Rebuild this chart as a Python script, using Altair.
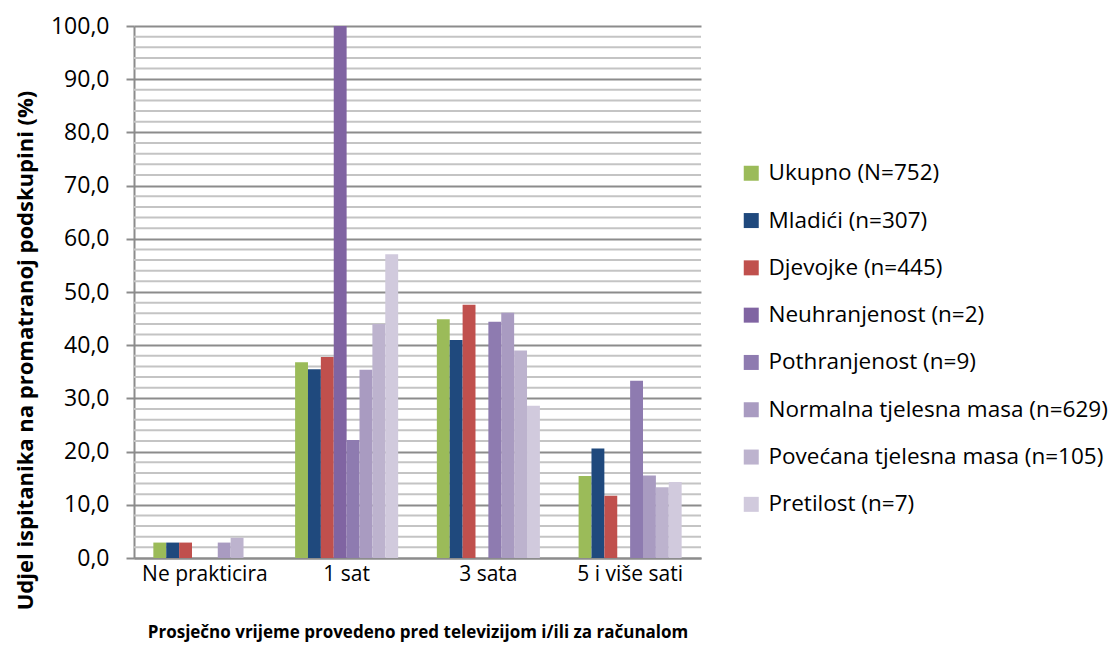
import altair as alt
import pandas as pd

categories = ["Ne prakticira", "1 sat", "3 sata", "5 i više sati"]
series = [
    "Ukupno (N=752)",
    "Mladići (n=307)",
    "Djevojke (n=445)",
    "Neuhranjenost (n=2)",
    "Pothranjenost (n=9)",
    "Normalna tjelesna masa (n=629)",
    "Povećana tjelesna masa (n=105)",
    "Pretilost (n=7)",
]
ukupno = [2.9, 36.8, 44.9, 15.4]
mladici = [2.9, 35.5, 41.0, 20.6]
djevojke = [2.9, 37.8, 47.6, 11.7]
neuhranjenost = [0.0, 100.0, 0.0, 0.0]
pothranjenost = [0.0, 22.2, 44.4, 33.3]
normalna = [2.9, 35.4, 46.1, 15.5]
povecana = [3.8, 44.0, 39.0, 13.3]
pretilost = [0.0, 57.1, 28.6, 14.3]
colors = ["#9BBB59", "#1F497D", "#C0504D", "#8064A2", "#8E7BB0", "#A99BC1", "#BDB3CE", "#D1CADD"]

major_ticks = list(range(0, 101, 10))
minor_ticks = [v for v in range(0, 101, 2) if v % 10 != 0]

values = [ukupno, mladici, djevojke, neuhranjenost, pothranjenost, normalna, povecana, pretilost]
rows = []
for s, vals in zip(series, values):
    for c, v in zip(categories, vals):
        rows.append({"kat": c, "serija": s, "v": v})
df = pd.DataFrame(rows)
grid_df = pd.DataFrame({"v": minor_ticks})

FONT = "Open Sans"

yscale = alt.Scale(domain=[0, 100], nice=False)
yaxis = alt.Axis(
    values=major_ticks,
    title="Udjel ispitanika na promatranoj podskupini (%)",
    labelExpr="replace(format(datum.value, '.1f'), '.', ',')",
    labelFontSize=23,
    labelFont=FONT,
    labelColor="#000000",
    labelPadding=17,
    tickSize=8,
    tickColor="#8C8C8C",
    tickWidth=2,
    domainColor="#8C8C8C",
    domainWidth=2,
    grid=True,
    gridColor="#8C8C8C",
    gridWidth=2,
    titleFont=FONT,
    titleFontSize=22,
    titleFontWeight="bold",
    titleColor="#000000",
    titleX=-109,
    titleY=324,
    titleAngle=-90,
    titleAlign="center",
    titleBaseline="middle",
)

minor = alt.Chart(grid_df).mark_rule(color="#C4C4C4", strokeWidth=2).encode(
    y=alt.Y("v:Q", scale=yscale, axis=yaxis)
)

bars = alt.Chart(df).mark_bar().encode(
    x=alt.X(
        "kat:N",
        sort=categories,
        scale=alt.Scale(paddingInner=0.273, paddingOuter=0.1365),
        axis=alt.Axis(
            title="Prosječno vrijeme provedeno pred televizijom i/ili za računalom",
            labelAngle=0,
            ticks=False,
            grid=False,
            labelPadding=5,
            labelFontSize=21,
            labelFont=FONT,
            labelColor="#000000",
            domainColor="#8C8C8C",
            domainWidth=2,
            titleFont=FONT,
            titleFontSize=17,
            titleFontWeight="bold",
            titleColor="#000000",
            titleY=74,
            titleBaseline="middle",
        ),
    ),
    xOffset=alt.XOffset("serija:N", sort=series),
    y=alt.Y("v:Q", scale=yscale, axis=yaxis),
    color=alt.Color(
        "serija:N",
        sort=series,
        scale=alt.Scale(domain=series, range=colors),
        legend=alt.Legend(
            title=None,
            orient="none",
            legendX=606,
            legendY=136,
            symbolType="square",
            symbolSize=225,
            symbolStrokeWidth=0,
            labelFont=FONT,
            labelFontSize=22.5,
            labelColor="#000000",
            rowPadding=24.3,
            labelOffset=6,
            labelLimit=500,
        ),
    ),
)

chart = (
    alt.layer(minor, bars)
    .properties(
        width=567,
        height=532,
        autosize=alt.AutoSizeParams(type="none"),
        padding={"left": 126, "top": 18, "right": 408, "bottom": 85},
    )
    .configure_view(stroke=None)
)

chart.save("out.html", embed_options={"renderer": "svg", "actions": False})
